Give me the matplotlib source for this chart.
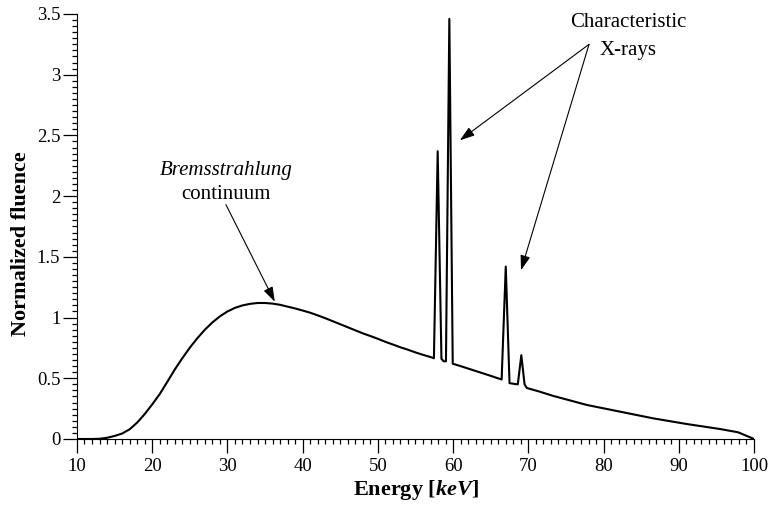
import matplotlib
matplotlib.use('Agg')
import matplotlib.pyplot as plt
from matplotlib.ticker import MultipleLocator, FuncFormatter

plt.rcParams['font.family'] = ['Liberation Serif', 'DejaVu Serif']
plt.rcParams['mathtext.fontset'] = 'custom'
plt.rcParams['mathtext.rm'] = 'Liberation Serif'
plt.rcParams['mathtext.it'] = 'Liberation Serif:italic'
plt.rcParams['mathtext.bf'] = 'Liberation Serif:bold'
plt.rcParams['mathtext.bfit'] = 'Liberation Serif:italic:bold'

# spectrum (keV, normalized fluence)
energy = [10, 11, 12, 13, 14, 15, 16, 17, 18, 19, 20, 21, 22, 23, 24, 25,
          26, 27, 28, 29, 30, 31, 32, 33, 34, 35, 36, 37, 38, 39, 40, 41,
          42, 43, 44, 45, 46, 47, 48, 49, 50, 51, 52, 53, 54, 55, 56, 57,
          57.45, 57.95, 58.45, 58.75, 59.05, 59.5, 59.95, 61, 62, 63, 64, 65,
          66.45, 67.0, 67.5, 68.0, 68.6, 69.07, 69.5, 69.8, 71.5, 73.3, 77.8,
          82.2, 86.6, 91.0, 95.5, 97.9, 100]
fluence = [0, 0, 0, 0.002, 0.01, 0.025, 0.045, 0.08, 0.135, 0.205, 0.285,
           0.37, 0.47, 0.572, 0.665, 0.752, 0.83, 0.90, 0.96, 1.01, 1.05, 1.08,
           1.10, 1.113, 1.12, 1.12, 1.115, 1.105, 1.09, 1.075, 1.058, 1.04,
           1.018, 0.995, 0.97, 0.945, 0.92, 0.895, 0.87, 0.848, 0.825, 0.80,
           0.778, 0.755, 0.735, 0.713, 0.693, 0.675,
           0.665, 2.37, 0.66, 0.64, 0.64, 3.46, 0.62, 0.60, 0.58, 0.56, 0.54,
           0.52, 0.49, 1.42, 0.46, 0.455, 0.45, 0.69, 0.45, 0.42, 0.39,
           0.355, 0.28, 0.225, 0.17, 0.124, 0.082, 0.055, 0.0]

fig = plt.figure(figsize=(7.69, 5.05), dpi=100)
ax = fig.add_axes([0.1001, 0.1307, 0.8804, 0.8416])

ax.plot(energy, fluence, color='black', lw=1.5)

ax.set_xlim(10, 100)
ax.set_ylim(0, 3.5)
ax.spines['top'].set_visible(False)
ax.spines['right'].set_visible(False)
ax.xaxis.set_major_locator(MultipleLocator(10))
ax.xaxis.set_minor_locator(MultipleLocator(1))
ax.yaxis.set_major_locator(MultipleLocator(0.5))
ax.yaxis.set_minor_locator(MultipleLocator(0.05))
ax.yaxis.set_major_formatter(FuncFormatter(lambda v, p: '%g' % v))
ax.tick_params(which='major', direction='out', length=10, width=0.9,
               labelsize=13.5)
ax.tick_params(axis='x', which='major', pad=4)
ax.tick_params(axis='y', which='major', pad=2)
ax.tick_params(which='minor', direction='out', length=3.5, width=0.9)

ax.set_xlabel(r'Energy [$\mathbfit{keV}$]', fontsize=16, fontweight='bold',
              labelpad=2)
ax.set_ylabel('Normalized fluence', fontsize=16, fontweight='bold')
ax.yaxis.set_label_coords(-0.068, 0.46)

# annotations
arrow = dict(arrowstyle='-|>,head_length=0.9,head_width=0.3',
             color='black', lw=0.8, shrinkA=0, shrinkB=0)
ax.text(29.8, 2.215, 'Bremsstrahlung', fontsize=15, style='italic',
        ha='center', va='center')
ax.text(29.8, 2.01, 'continuum', fontsize=15, ha='center', va='center')
ax.annotate('', xy=(36.3, 1.13), xytext=(29.8, 1.93), arrowprops=arrow)

ax.text(83.25, 3.43, 'Characteristic', fontsize=15, ha='center', va='center')
ax.text(83.25, 3.20, 'X-rays', fontsize=15, ha='center', va='center')
for tip in [(60.9, 2.46), (69.03, 1.39)]:
    ax.annotate('', xy=tip, xytext=(78.07, 3.25), arrowprops=arrow)

fig.savefig('out.png', dpi=100)
